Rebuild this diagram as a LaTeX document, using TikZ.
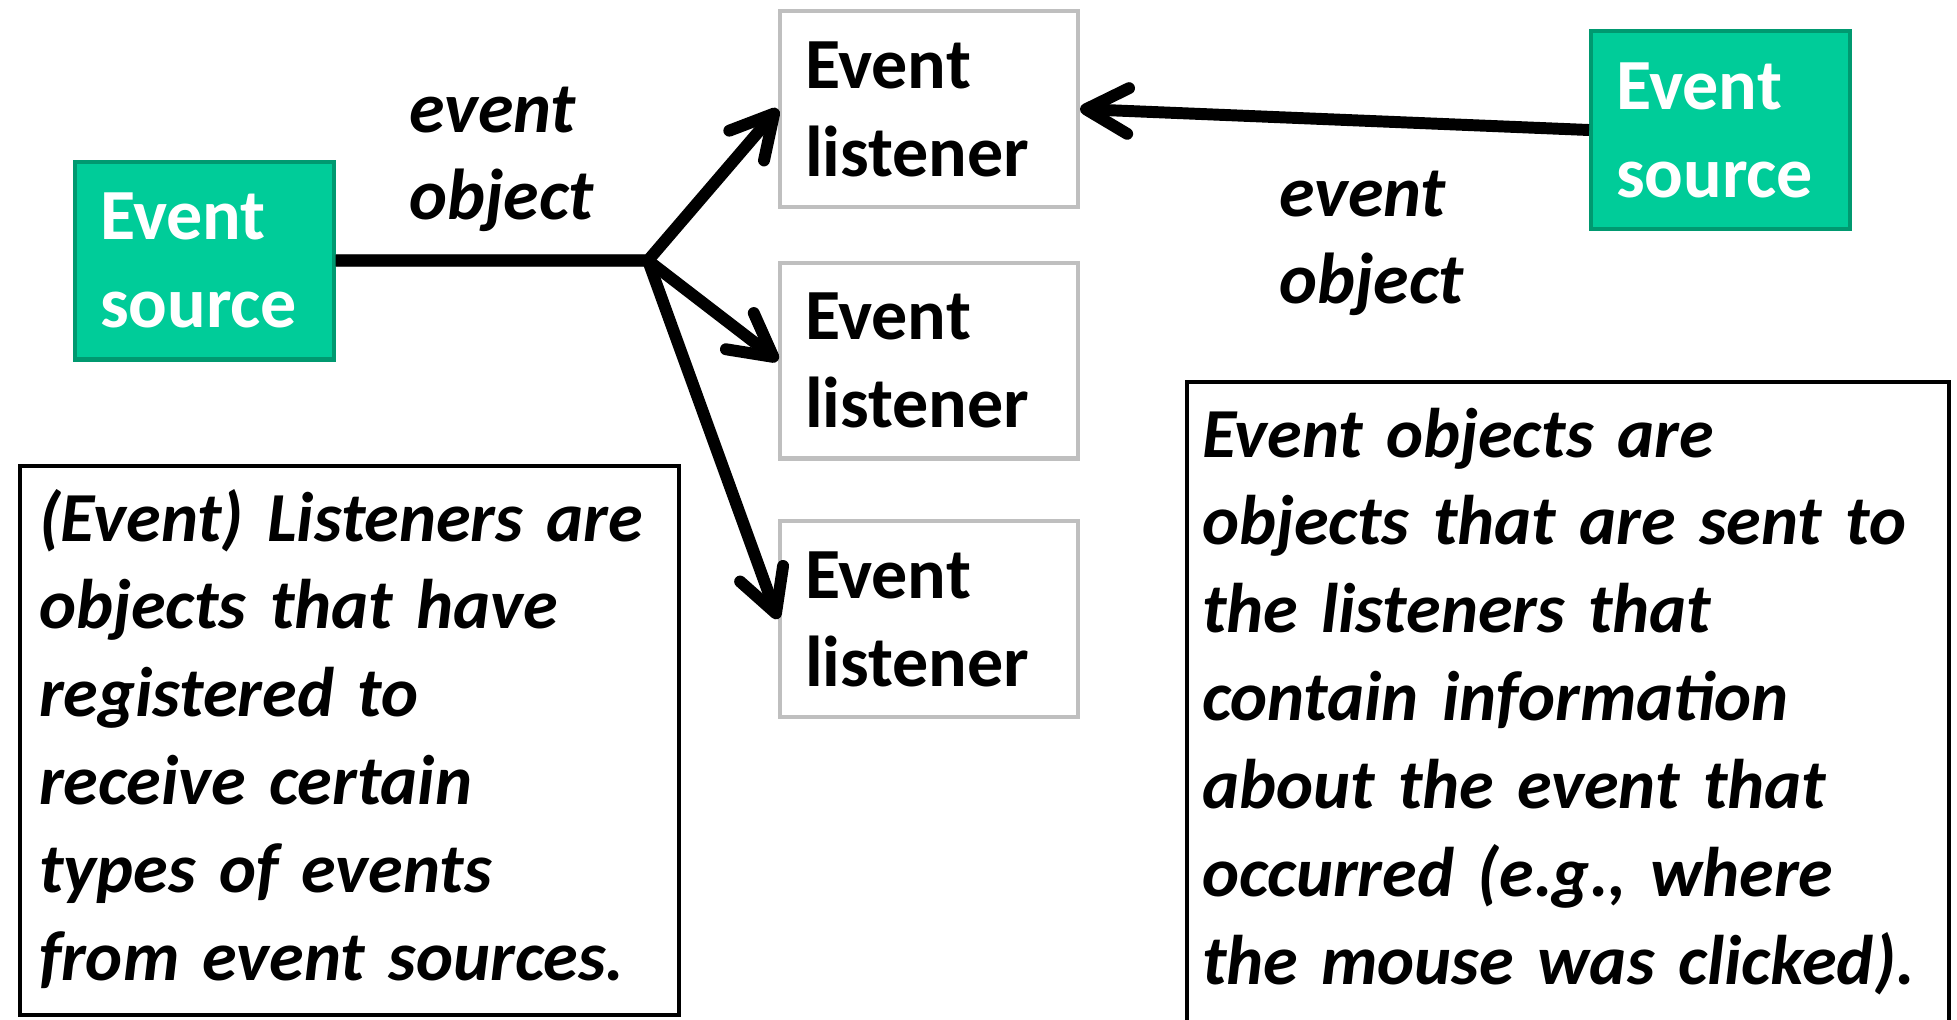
\documentclass[tikz,border=0pt]{standalone}
\usepackage{fontspec}
\setmainfont{Carlito}
\usepackage{tikz}
\usetikzlibrary{positioning, arrows.meta}
\definecolor{srccolor}{RGB}{0,204,153}
\definecolor{srcborder}{RGB}{0,153,112}
\definecolor{lisborder}{RGB}{191,191,191}
\newcommand{\slidefont}{\fontsize{41pt}{50pt}\selectfont\bfseries}
\newcommand{\notefont}{\fontsize{40pt}{50pt}\selectfont\bfseries\itshape}

\begin{document}
\begin{tikzpicture}[x=0.02cm, y=-0.02cm,
    every node/.style={font=\slidefont, align=left},
    source/.style={rectangle, fill=srccolor, draw=srcborder, line width=2.3pt, text=white,
        minimum width=5.18cm, minimum height=3.96cm, inner xsep=0.5cm, text width=4.18cm},
    listener/.style={rectangle, draw=lisborder, line width=2.3pt,
        minimum width=5.96cm, minimum height=3.92cm, inner xsep=0.5cm, text width=4.96cm},
    infobox/.style={rectangle, draw=black, line width=2.3pt, anchor=north west,
        font=\notefont, inner ysep=0.5cm, text height=1cm},
    msg/.style={anchor=base west, inner sep=0pt, text width=4cm, font=\slidefont\itshape},
    flow/.style={line width=6.8pt, line join=miter, -{Straight Barb[length=24pt, width=26pt, round]}}]

    \path[use as bounding box, fill=white] (0,0) rectangle (1957,1019);

    \node[source] (srcL) at (204.5,260.5) {Event\\source};
    \node[source] (srcR) at (1720.5,130) {Event\\source};
    \node[listener] (lisA) at (929,109) {Event\\listener};
    \node[listener] (lisB) at (929,360.5) {Event\\listener};
    \node[listener] (lisC) at (929,619) {Event\\listener};
    \coordinate (split) at (648,260.5);

    \node[msg] (msgL) at (409,132) {event\\object};
    \node[msg] (msgR) at (1279,216) {event\\object};

    \node[infobox, text width=12.42cm, inner xsep=0.38cm, text depth=8.98cm] (infoL) at (18,464)
        {(Event) Listeners are\\objects that have\\registered to\\receive certain\\types of events\\from event sources.};
    \node[infobox, text width=14.64cm, inner xsep=0.3cm, text depth=12cm] (infoR) at (1185,380)
        {Event objects are\\objects that are sent to\\the listeners that\\contain information\\about the event that\\occurred (e.g., where\\the mouse was clicked).};

    \foreach \n in {lisA,lisB,lisC}
        \draw[flow] (srcL.east) -- (split) -- (\n.west);
    \draw[flow] (srcR.west) -- (lisA.east);
\end{tikzpicture}
\end{document}
